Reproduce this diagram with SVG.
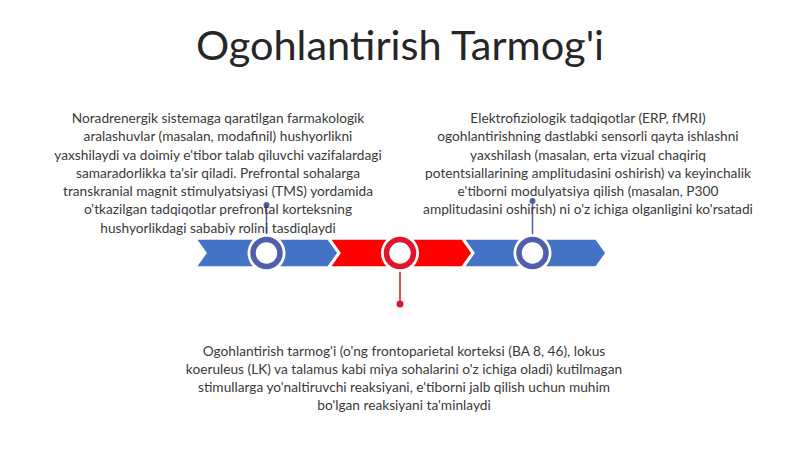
<svg xmlns="http://www.w3.org/2000/svg" width="800" height="449" viewBox="0 0 800 449">
<style>
.title{font-family:"Lato","Liberation Sans",sans-serif;font-size:41.5px;fill:#262626;text-anchor:middle}
.body{font-family:"Lato","Liberation Sans",sans-serif;font-size:13.7px;fill:#3a3a3a;text-anchor:middle}
.segB{fill:#4472C4;stroke:#fff;stroke-width:1.5}
.segR{fill:#FF0000;stroke:#fff;stroke-width:1.5}
.halo{fill:#fff}
.ringB{fill:#fff;stroke:#4F5FAE;stroke-width:5.5}
.ringR{fill:#fff;stroke:#E0142C;stroke-width:5.5}
.lnB{stroke:#4F5FAE;stroke-width:1.5}
.lnR{stroke:#E0142C;stroke-width:1.5}
</style>
<rect width="800" height="449" fill="#fff"/>
<text class="title" x="400" y="60">Ogohlantirish Tarmog'i</text>
<g id="seg1"><polygon class="segB" points="196,239 328,239 338,253 328,267 196,267 206,253"/></g>
<g id="seg2"><polygon class="segR" points="330,239 462,239 472,253 462,267 330,267 340,253"/></g>
<g id="seg3"><polygon class="segB" points="464,239 596,239 606,253 596,267 464,267 474,253"/></g>
<g id="connectors">
<line class="lnB" x1="266.5" y1="205" x2="266.5" y2="236"/>
<circle cx="266.5" cy="205" r="3" fill="#4F5FAE"/>
<line class="lnB" x1="532.5" y1="201" x2="532.5" y2="236"/>
<circle cx="532.5" cy="201" r="3" fill="#4F5FAE"/>
<line class="lnR" x1="400" y1="270" x2="400" y2="304"/>
<circle cx="400" cy="304" r="3.5" fill="#E0142C"/>
</g>
<g id="node1">
<circle class="halo" cx="266.5" cy="253" r="19"/>
<circle class="ringB" cx="266.5" cy="253" r="13.5"/>
<text class="body" x="218" y="123">Noradrenergik sistemaga qaratilgan farmakologik</text>
<text class="body" x="218" y="141">aralashuvlar (masalan, modafinil) hushyorlikni</text>
<text class="body" x="218" y="159.5">yaxshilaydi va doimiy e'tibor talab qiluvchi vazifalardagi</text>
<text class="body" x="218" y="177.5">samaradorlikka ta'sir qiladi. Prefrontal sohalarga</text>
<text class="body" x="218" y="196">transkranial magnit stimulyatsiyasi (TMS) yordamida</text>
<text class="body" x="218" y="214">o'tkazilgan tadqiqotlar prefrontal korteksning</text>
<text class="body" x="218" y="232.5">hushyorlikdagi sababiy rolini tasdiqlaydi</text>
</g>
<g id="node2">
<circle class="halo" cx="400" cy="253" r="19"/>
<circle class="ringR" cx="400" cy="253" r="13.5"/>
<text class="body" x="404" y="356">Ogohlantirish tarmog'i (o'ng frontoparietal korteksi (BA 8, 46), lokus</text>
<text class="body" x="404" y="374">koeruleus (LK) va talamus kabi miya sohalarini o'z ichiga oladi) kutilmagan</text>
<text class="body" x="404" y="392">stimullarga yo'naltiruvchi reaksiyani, e'tiborni jalb qilish uchun muhim</text>
<text class="body" x="404" y="410">bo'lgan reaksiyani ta'minlaydi</text>
</g>
<g id="node3">
<circle class="halo" cx="532.5" cy="253" r="19"/>
<circle class="ringB" cx="532.5" cy="253" r="13.5"/>
<text class="body" x="588" y="123">Elektrofiziologik tadqiqotlar (ERP, fMRI)</text>
<text class="body" x="588" y="141">ogohlantirishning dastlabki sensorli qayta ishlashni</text>
<text class="body" x="588" y="159.5">yaxshilash (masalan, erta vizual chaqiriq</text>
<text class="body" x="588" y="177.5">potentsiallarining amplitudasini oshirish) va keyinchalik</text>
<text class="body" x="588" y="196">e'tiborni modulyatsiya qilish (masalan, P300</text>
<text class="body" x="588" y="214">amplitudasini oshirish) ni o'z ichiga olganligini ko'rsatadi</text>
</g>
</svg>
